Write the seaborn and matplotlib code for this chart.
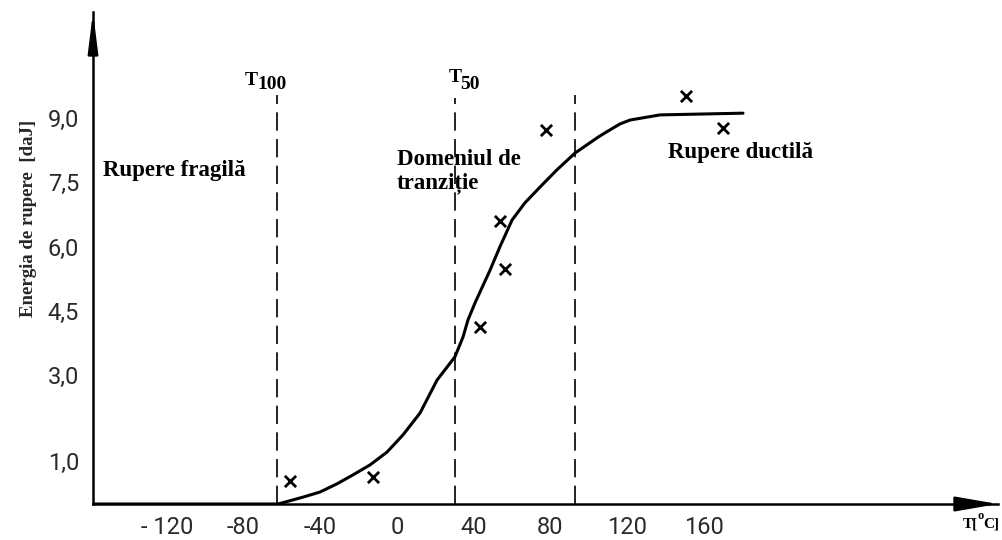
import matplotlib
matplotlib.use("Agg")
import matplotlib.pyplot as plt
import seaborn as sns
import pandas as pd

# ---- data ----
temp_ticks = [-120, -80, -40, 0, 40, 80, 120, 160]
temp_tick_labels = ["- 120", "-80", "-40", "0", "40", "80", "120", "160"]
energy_ticks = [1.0, 3.0, 4.5, 6.0, 7.5, 9.0]
energy_tick_labels = ["1,0", "3,0", "4,5", "6,0", "7,5", "9,0"]

curve_temp = [-158.5, -62.0, -49.0, -40.1, -31.3, -22.9, -14.1, -5.2, 3.1, 12.0,
              20.9, 30.2, 34.4, 37.0, 40.7, 48.5, 53.7, 60.0, 66.7, 74.6,
              83.4, 92.8, 104.8, 109.5, 116.3, 121.5, 137.1, 180.4]
curve_energy = [0.0, 0.0, 0.16, 0.28, 0.47, 0.68, 0.91, 1.21, 1.61, 2.12,
                2.89, 3.43, 3.89, 4.29, 4.69, 5.45, 6.00, 6.62, 7.02, 7.39,
                7.79, 8.18, 8.55, 8.68, 8.86, 8.95, 9.07, 9.11]

meas_temp = [-55.8, -12.5, 43.3, 56.3, 53.7, 77.7, 150.7, 170.0]
meas_energy = [0.54, 0.63, 4.13, 5.48, 6.60, 8.72, 9.51, 8.76]

boundary_temp = [-62.6, 30.2, 92.8]
boundary_top = [9.53, 9.46, 9.53]

curve_df = pd.DataFrame({"T": curve_temp, "E": curve_energy})
meas_df = pd.DataFrame({"T": meas_temp, "E": meas_energy})

# ---- style ----
sns.set_style("white")
plt.rcParams["font.family"] = ["Liberation Serif", "DejaVu Sans"]

W, H = 1003, 540
fig = plt.figure(figsize=(W / 100, H / 100), dpi=100)
ax_left, ax_bottom, ax_w, ax_h = 93, 36, 905, 492
ax = fig.add_axes([ax_left / W, ax_bottom / H, ax_w / W, ax_h / H])
px_per_T = 1.918
px_per_E = 42.9
x0 = -158.5
ax.set_xlim(x0, x0 + ax_w / px_per_T)
ax.set_ylim(0, ax_h / px_per_E)
ax.set_facecolor("white")

sns.lineplot(data=curve_df, x="T", y="E", sort=False, estimator=None,
             color="black", linewidth=2.2, ax=ax,
             solid_joinstyle="round", solid_capstyle="round")
sns.scatterplot(data=meas_df, x="T", y="E", marker="x", s=65,
                color="black", linewidth=2.0, ax=ax, zorder=5)
ax.vlines(boundary_temp, 0, boundary_top, colors="black",
          linestyles=(0, (11, 5)), linewidth=1.2)

# axes / spines
for s in ["top", "right"]:
    ax.spines[s].set_visible(False)
for s in ["left", "bottom"]:
    ax.spines[s].set_linewidth(1.8)
    ax.spines[s].set_color("black")

ax.annotate("", xy=(1, 0), xycoords="axes fraction", xytext=(-40, 0),
            textcoords="offset pixels",
            arrowprops=dict(arrowstyle="-|>,head_length=2.6,head_width=0.45",
                            color="black", lw=1.8, shrinkA=0, shrinkB=0,
                            mutation_scale=10))
ax.annotate("", xy=(0, 1), xycoords="axes fraction", xytext=(0, -40),
            textcoords="offset pixels",
            arrowprops=dict(arrowstyle="-|>,head_length=2.4,head_width=0.3",
                            color="black", lw=1.8, shrinkA=0, shrinkB=0,
                            mutation_scale=10))

ax.set_xticks(temp_ticks, temp_tick_labels)
ax.set_yticks(energy_ticks, energy_tick_labels)
ax.tick_params(axis="x", direction="out", length=6, width=1.3, pad=3,
               labelsize=17, colors="black")
ax.tick_params(axis="y", direction="out", length=9, width=1.3, pad=1,
               labelsize=17, colors="black")
for lbl in ax.get_xticklabels() + ax.get_yticklabels():
    lbl.set_fontfamily(["Roboto", "DejaVu Sans"])
    lbl.set_fontweight("normal")
    lbl.set_color("#2a2a2a")

ax.set_xlabel("")
ax.set_ylabel("Energia de rupere  [daJ]", fontsize=13.5, fontweight="bold")
ax.yaxis.set_label_coords((37 - ax_left) / ax_w, (504 - 218) / ax_h)


def T(px):
    return x0 + (px - ax_left) / px_per_T


def E(py):
    return (504 - py) / px_per_E


bold = dict(fontweight="bold", color="black", va="baseline", ha="left")
ax.text(T(103), E(176), "Rupere fragilă", fontsize=16.5, **bold)
ax.text(T(397), E(165), "Domeniul de", fontsize=16.5, **bold)
ax.text(T(397), E(188), "tranziție", fontsize=16.5, **bold)
ax.text(T(668), E(158), "Rupere ductilă", fontsize=16.5, **bold)

ax.text(T(245), E(85), "T", fontsize=14, **bold)
ax.text(T(257), E(89), "100", fontsize=14, **bold)
ax.text(T(449), E(82), "T", fontsize=14, **bold)
ax.text(T(460), E(89), "50", fontsize=14, **bold)

ax.text(T(963), E(528), "T[", fontsize=11, clip_on=False, **bold)
ax.text(T(977), E(519), "o", fontsize=9, clip_on=False, **bold)
ax.text(T(983), E(528), "C]", fontsize=11, clip_on=False, **bold)

fig.savefig("out.png", dpi=100, facecolor="white")
